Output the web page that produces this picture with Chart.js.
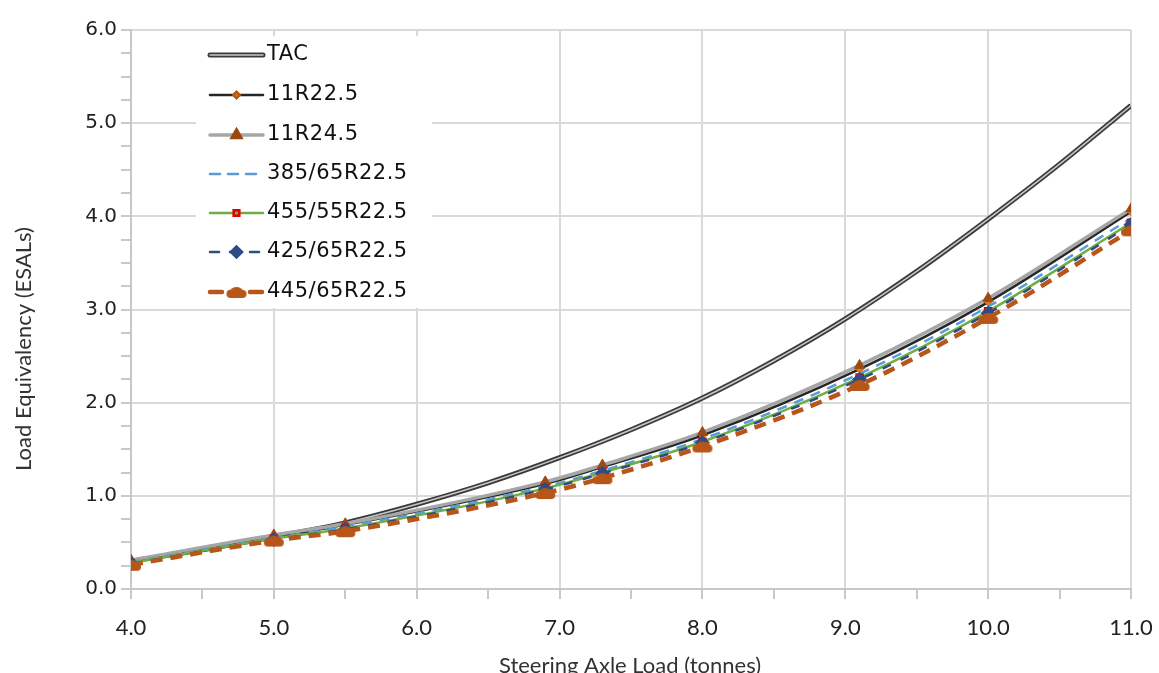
<!DOCTYPE html>
<html>
<head>
<meta charset="utf-8">
<script src="https://cdn.jsdelivr.net/npm/chart.js@4.4.0/dist/chart.umd.min.js"></script>
<style>
  html, body { margin: 0; padding: 0; background: #fff; }
  canvas { display: block; }
</style>
</head>
<body>
<canvas id="esalChart" width="1159" height="673"></canvas>
<script>
// steering axle loads (tonnes) where the tyre series were computed
const loads = [4.0, 5.0, 5.5, 6.9, 7.3, 8.0, 9.1, 10.0, 11.0];
// TAC curve, read every half tonne
const tacLoads = [4.0, 4.5, 5.0, 5.5, 6.0, 6.5, 7.0, 7.5, 8.0, 8.5, 9.0, 9.5, 10.0, 10.5, 11.0];
const tacValues = [0.30, 0.42, 0.56, 0.71, 0.91, 1.14, 1.41, 1.71, 2.05, 2.45, 2.90, 3.41, 3.97, 4.56, 5.19];

const r11_225 = [0.30, 0.57, 0.69, 1.13, 1.31, 1.65, 2.36, 3.08, 4.05];
const r11_245 = [0.31, 0.58, 0.70, 1.15, 1.33, 1.68, 2.40, 3.12, 4.08];
const r385_65 = [0.29, 0.55, 0.67, 1.10, 1.27, 1.61, 2.31, 3.03, 3.98];
const r455_55 = [0.28, 0.54, 0.65, 1.08, 1.25, 1.58, 2.27, 2.98, 3.93];
const r425_65 = [0.27, 0.53, 0.64, 1.07, 1.24, 1.57, 2.25, 2.96, 3.91];
const r445_65 = [0.26, 0.52, 0.62, 1.03, 1.19, 1.53, 2.19, 2.91, 3.85];

const xTickLabels = ['4.0', '5.0', '6.0', '7.0', '8.0', '9.0', '10.0', '11.0'];
const yTickLabels = ['0.0', '1.0', '2.0', '3.0', '4.0', '5.0', '6.0'];

const pts = (xs, ys) => xs.map((x, i) => ({ x: x, y: ys[i] }));
const isWhole = v => Math.abs(v - Math.round(v)) < 1e-6;

// wide rounded blob used by the 445/65R22.5 series
function blobMarker(color) {
    const c = document.createElement('canvas');
    c.width = 22; c.height = 14;
    const g = c.getContext('2d');
    g.fillStyle = color;
    g.beginPath();
    g.roundRect(1, 5, 20, 8, 4);
    g.fill();
    g.beginPath();
    g.ellipse(11, 6, 6, 4, 0, 0, Math.PI * 2);
    g.fill();
    return c;
}

const brown = '#b85619';

const datasets = [
    { label: 'TAC', data: pts(tacLoads, tacValues), borderColor: '#3a3a3a', borderWidth: 5,
      pointRadius: 0, order: 9, cubicInterpolationMode: 'monotone', inner: '#c8c8c8' },
    { label: 'TAC-inner', data: pts(tacLoads, tacValues), borderColor: '#c8c8c8', borderWidth: 1.5,
      pointRadius: 0, order: 8, cubicInterpolationMode: 'monotone', skipLegend: true },
    { label: '11R22.5', data: pts(loads, r11_225), borderColor: '#262626', borderWidth: 2.5,
      pointStyle: 'rectRot', pointRadius: 4, pointBackgroundColor: '#e8761e', pointBorderColor: '#b25a10',
      pointBorderWidth: 1, order: 7, cubicInterpolationMode: 'monotone' },
    { label: '11R24.5', data: pts(loads, r11_245), borderColor: '#a6a6a6', borderWidth: 3.5,
      pointStyle: 'triangle', pointRadius: 6, pointBackgroundColor: '#9c4a12', pointBorderColor: '#9c4a12',
      pointBorderWidth: 1, order: 6, cubicInterpolationMode: 'monotone' },
    { label: '385/65R22.5', data: pts(loads, r385_65), borderColor: '#5b9bd5', borderWidth: 2.5,
      borderDash: [10, 8], pointRadius: 0, order: 5, cubicInterpolationMode: 'monotone' },
    { label: '455/55R22.5', data: pts(loads, r455_55), borderColor: '#70ad47', borderWidth: 2.5,
      pointStyle: 'rect', pointRadius: 5, pointBackgroundColor: '#70ad47', pointBorderColor: '#e00000',
      pointBorderWidth: 1.5, order: 4, cubicInterpolationMode: 'monotone' },
    { label: '425/65R22.5', data: pts(loads, r425_65), borderColor: '#2f4b85', borderWidth: 2.5,
      borderDash: [9, 11], pointStyle: 'rectRot', pointRadius: 7, pointBackgroundColor: '#2f4b85',
      pointBorderColor: '#2f4b85', pointBorderWidth: 1, order: 3, cubicInterpolationMode: 'monotone' },
    { label: '445/65R22.5', data: pts(loads, r445_65), borderColor: brown, borderWidth: 4.5,
      borderDash: [12, 8], pointStyle: blobMarker(brown), pointRadius: 8, order: 2,
      cubicInterpolationMode: 'monotone' }
];

// legend drawn on the canvas so each sample shows its line and marker
const legendPlugin = {
    id: 'sampleLegend',
    afterDraw(chart) {
        const ctx = chart.ctx;
        ctx.save();
        ctx.fillStyle = '#fff';
        ctx.fillRect(196, 36, 236, 272);
        const rows = [55, 95, 135, 174, 213, 252, 292];
        const x1 = 210, x2 = 263, xm = (x1 + x2) / 2;
        const shown = chart.data.datasets.filter(d => !d.skipLegend);
        shown.forEach((ds, i) => {
            const y = rows[i];
            ctx.save();
            ctx.lineCap = 'round';
            ctx.strokeStyle = ds.borderColor;
            ctx.lineWidth = ds.borderWidth;
            ctx.setLineDash(ds.borderDash || []);
            ctx.beginPath(); ctx.moveTo(x1, y); ctx.lineTo(x2, y); ctx.stroke();
            if (ds.inner) {
                ctx.strokeStyle = ds.inner; ctx.lineWidth = 1.5;
                ctx.beginPath(); ctx.moveTo(x1, y); ctx.lineTo(x2, y); ctx.stroke();
            }
            ctx.setLineDash([]);
            if (ds.pointRadius > 0) {
                ctx.fillStyle = ds.pointBackgroundColor || ds.borderColor;
                ctx.strokeStyle = ds.pointBorderColor || ds.borderColor;
                Chart.helpers.drawPoint(ctx, {
                    pointStyle: ds.pointStyle, radius: ds.pointRadius * 0.8, rotation: 0,
                    borderWidth: ds.pointBorderWidth || 0
                }, xm, y);
            }
            ctx.restore();
            ctx.fillStyle = '#111';
            ctx.font = '21px "DejaVu Sans"';
            ctx.letterSpacing = '0.5px';
            ctx.textBaseline = 'middle';
            ctx.textAlign = 'left';
            ctx.fillText(ds.label, 267, y);
        });

        // axis titles
        ctx.letterSpacing = '0px';
        ctx.fillStyle = '#333';
        ctx.font = '22px Lato';
        ctx.textAlign = 'center';
        ctx.textBaseline = 'middle';
        ctx.fillText('Steering Axle Load (tonnes)', 630, 666);
        ctx.translate(24, 349);
        ctx.rotate(-Math.PI / 2);
        ctx.fillText('Load Equivalency (ESALs)', 0, 0);
        ctx.restore();
    }
};

new Chart(document.getElementById('esalChart'), {
    type: 'line',
    data: { datasets: datasets },
    plugins: [legendPlugin],
    options: {
        responsive: false,
        animation: false,
        layout: { padding: { top: 30, right: 28, left: 0, bottom: 0 } },
        plugins: { legend: { display: false }, tooltip: { enabled: false } },
        scales: {
            x: {
                type: 'linear', min: 4, max: 11,
                afterFit: s => { s.height = 84; s.paddingRight = 0; s.paddingLeft = 0; },
                border: { color: '#c8c8c8', width: 2 },
                grid: {
                    color: c => isWhole(c.tick.value) ? '#d9d9d9' : 'rgba(0,0,0,0)',
                    tickColor: '#c8c8c8', lineWidth: 2, tickLength: 10
                },
                ticks: {
                    stepSize: 0.5, autoSkip: false, maxRotation: 0, padding: 16,
                    color: '#222', font: { family: 'Lato', size: 22 },
                    callback: v => isWhole(v) ? xTickLabels[Math.round(v) - 4] : ''
                }
            },
            y: {
                min: 0, max: 6,
                afterFit: s => { s.width = 131; s.paddingTop = 0; s.paddingBottom = 0; },
                border: { color: '#c8c8c8', width: 2 },
                grid: {
                    color: c => isWhole(c.tick.value) ? '#d9d9d9' : 'rgba(0,0,0,0)',
                    tickColor: '#c8c8c8', lineWidth: 2, tickLength: 10
                },
                ticks: {
                    stepSize: 0.25, autoSkip: false, padding: 4,
                    color: '#222', font: { family: 'DejaVu Sans', size: 20 },
                    callback: v => isWhole(v) ? yTickLabels[Math.round(v)] : ''
                }
            }
        }
    }
});
</script>
</body>
</html>
